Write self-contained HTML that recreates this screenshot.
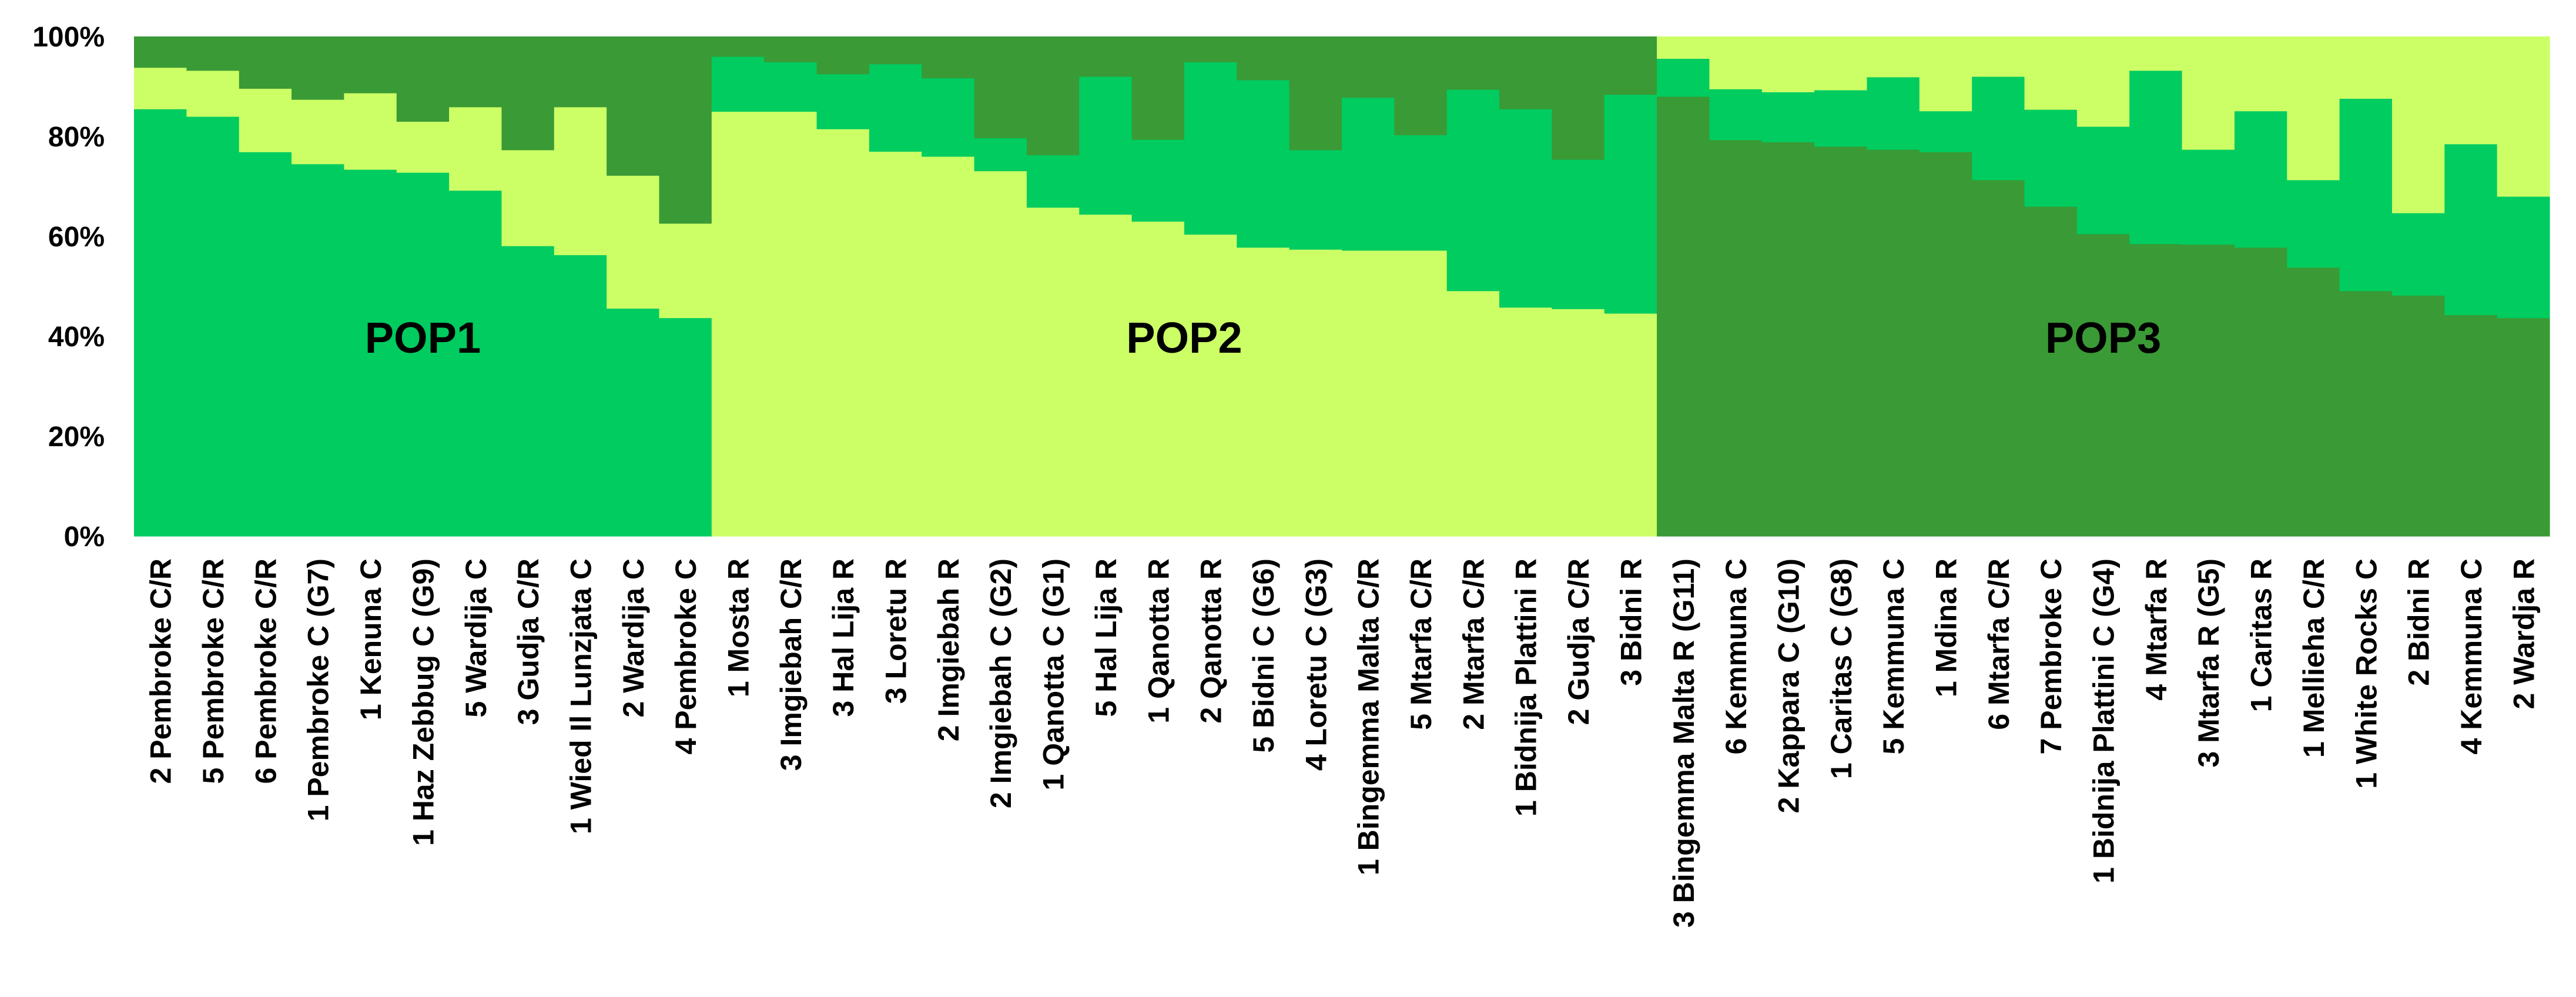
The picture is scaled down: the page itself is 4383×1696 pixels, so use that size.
<!DOCTYPE html>
<html><head><meta charset="utf-8"><style>
html,body{margin:0;padding:0;background:#fff;}
svg text{font-family:"Liberation Sans",Arial,sans-serif;font-weight:bold;fill:#000;}
</style></head><body>
<svg id="chart" width="4383" height="1691" viewBox="0 0 4383 1691" xmlns="http://www.w3.org/2000/svg"></svg>
<script>
const categories = ["2 Pembroke C/R","5 Pembroke C/R","6 Pembroke C/R","1 Pembroke C (G7)","1 Kenuna C","1 Haz Zebbug C (G9)","5 Wardija C","3 Gudja C/R","1 Wied Il Lunzjata C","2 Wardija C","4 Pembroke C",
"1 Mosta R","3 Imgiebah C/R","3 Hal Lija R","3 Loretu R","2 Imgiebah R","2 Imgiebah C (G2)","1 Qanotta C (G1)","5 Hal Lija R","1 Qanotta R","2 Qanotta R","5 Bidni C (G6)","4 Loretu C (G3)","1 Bingemma Malta C/R","5 Mtarfa C/R","2 Mtarfa C/R","1 Bidnija Plattini R","2 Gudja C/R","3 Bidni R",
"3 Bingemma Malta R (G11)","6 Kemmuna C","2 Kappara C (G10)","1 Caritas C (G8)","5 Kemmuna C","1 Mdina R","6 Mtarfa C/R","7 Pembroke C","1 Bidnija Plattini C (G4)","4 Mtarfa R","3 Mtarfa R (G5)","1 Caritas R","1 Mellieha C/R","1 White Rocks C","2 Bidni R","4 Kemmuna C","2 Wardja R"];
// cluster proportions (%) per sample
const medGreen = [85.5,84.0,76.9,74.5,73.4,72.8,69.2,58.1,56.3,45.6,43.7,
 11.0,9.9,11.0,17.5,15.7,6.6,10.5,27.6,16.4,34.5,33.5,19.9,30.6,23.1,40.3,39.7,29.9,43.8,
 7.6,10.2,10.0,11.3,14.5,8.2,20.7,19.4,21.5,34.7,19.0,27.3,17.5,38.5,16.5,34.2,24.3];
const lightGreen = [8.3,9.2,12.7,12.9,15.3,10.2,16.7,19.2,29.6,26.6,18.9,
 85.0,85.0,81.5,77.0,76.0,73.1,65.8,64.4,63.0,60.4,57.8,57.4,57.2,57.2,49.1,45.8,45.5,44.6,
 4.4,10.5,11.1,10.7,8.1,14.9,8.0,14.6,18.0,6.8,22.6,14.9,28.7,12.4,35.3,21.5,32.0];
const darkGreen = [6.2,6.8,10.4,12.6,11.3,17.0,14.1,22.7,14.1,27.8,37.4,
 4.0,5.1,7.5,5.5,8.3,20.3,23.7,8.0,20.6,5.1,8.7,22.7,12.2,19.7,10.6,14.5,24.6,11.6,
 88.0,79.3,78.9,78.0,77.4,76.9,71.3,66.0,60.5,58.5,58.4,57.8,53.8,49.1,48.2,44.3,43.7];
const yTicks = [0,20,40,60,80,100];
const groupNames = ["POP1","POP2","POP3"];
const groupStart = [0,11,29];
const groupEnd = [11,29,46];
// stack order per group (bottom to top)
const stackOrders = [["med","light","dark"],["light","med","dark"],["dark","med","light"]];

const svg = document.getElementById('chart');
const NS = "http://www.w3.org/2000/svg";
const L=228, R=4338, T=62, B=912;
const n = categories.length, bw=(R-L)/n;
const xS = i => L + i*bw;
const yS = v => B - v/100*(B-T);
const colors = {med:"#00CC60", light:"#CCFF66", dark:"#3A9A35"};
const series = {med:medGreen, light:lightGreen, dark:darkGreen};
function el(tag, attrs){const e=document.createElementNS(NS,tag);for(const k in attrs)e.setAttribute(k,attrs[k]);svg.appendChild(e);return e;}

for(let g=0; g<3; g++){
  for(let i=groupStart[g]; i<groupEnd[g]; i++){
    let acc=0;
    stackOrders[g].forEach(s=>{
      const v=series[s][i];
      const r=el('rect',{x:xS(i),y:yS(acc+v),width:bw+0.6,height:yS(acc)-yS(acc+v)+0.6,fill:colors[s]});
      
      
      acc+=v;
    });
    const top=stackOrders[g][2];
    const r2=el('rect',{x:xS(i),y:T,width:bw+0.6,height:Math.max(0,yS(acc)-T),fill:colors[top]});
    
    
    const t=el('text',{x:0,y:0,'font-size':50,'text-anchor':'end',transform:`translate(${xS(i)+bw/2+18},950) rotate(-90)`});
    t.textContent=categories[i];
    
    
  }
  const cx=(xS(groupStart[g])+xS(groupEnd[g]))/2;
  const gl=el('text',{x:cx,y:600,'font-size':74,'text-anchor':'middle'});
  gl.textContent=groupNames[g];
  
  
}
yTicks.forEach(v=>{
  const t=el('text',{x:178,y:yS(v)+17,'font-size':48,'text-anchor':'end'});
  t.textContent=v+'%';
  
  
});
</script>
</body></html>
